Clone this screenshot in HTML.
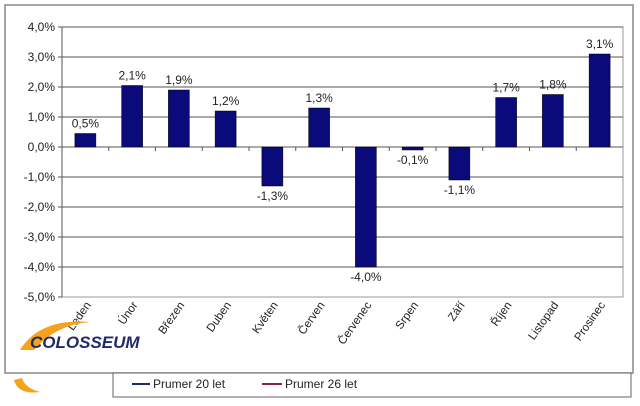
<!DOCTYPE html>
<html><head><meta charset="utf-8"><style>
body{margin:0;background:#fff;width:640px;height:401px;overflow:hidden;font-family:"Liberation Sans",sans-serif}
svg text{font-family:"Liberation Sans",sans-serif;font-size:12px;fill:#222}
</style></head><body>
<svg width="640" height="401">
<rect x="5" y="5" width="628" height="368" fill="#fff" stroke="#888" stroke-width="1.5"/>
<rect x="113" y="373" width="518" height="24" fill="#fff" stroke="#666"/>
<g id="plot"></g>
<g>
<path d="M20,350 Q40,318 90,322 Q55,325 34,350 Z" fill="#f5a21c"/>
<text x="30" y="348" style="font-size:17px;font-weight:bold;fill:#1d2b6b;font-style:italic">COLOSSEUM</text>
<path d="M14,380 Q18,395 40,392 Q25,388 22,378 Z" fill="#f5a21c"/>
</g>
<line x1="132" y1="384" x2="150" y2="384" stroke="#1d2b6b" stroke-width="2"/>
<text x="153" y="388">Prumer 20 let</text>
<line x1="262" y1="384" x2="282" y2="384" stroke="#8b2252" stroke-width="2"/>
<text x="285" y="388">Prumer 26 let</text>
</svg>
<script>
const categories=["Leden","Únor","Březen","Duben","Květen","Červen","Červenec","Srpen","Září","Říjen","Listopad","Prosinec"];
const values=[0.45,2.05,1.9,1.2,-1.3,1.3,-4.0,-0.1,-1.1,1.65,1.75,3.1];
const labels=["0,5%","2,1%","1,9%","1,2%","-1,3%","1,3%","-4,0%","-0,1%","-1,1%","1,7%","1,8%","3,1%"];
const ticks=[4,3,2,1,0,-1,-2,-3,-4,-5];
const tickLabels=["4,0%","3,0%","2,0%","1,0%","0,0%","-1,0%","-2,0%","-3,0%","-4,0%","-5,0%"];
const NS="http://www.w3.org/2000/svg",g=document.getElementById('plot');
const L=62,R=623,T=27,B=297,vmax=4,vmin=-5;
const y=v=>T+(vmax-v)/(vmax-vmin)*(B-T);
const bw=(R-L)/categories.length;
const x=i=>L+bw*(i+0.5);
function mk(t,a){const e=document.createElementNS(NS,t);for(const k in a)e.setAttribute(k,a[k]);g.appendChild(e);return e;}
let e=mk('rect',{x:L,y:T,width:R-L,height:B-T,fill:'#fff',stroke:'#999'});


ticks.forEach((t,i)=>{
 const l=mk('line',{x1:L-4,x2:t>vmin?R:L,y1:y(t),y2:y(t),stroke:'#555','stroke-width':1});
 
 
 const tx=mk('text',{x:L-7,y:y(t)+4,'text-anchor':'end'});tx.textContent=tickLabels[i];
 
 
});
e=mk('line',{x1:L,x2:L,y1:T,y2:B,stroke:'#555'});


categories.forEach((c,i)=>{
 const tk=mk('line',{x1:L+bw*i,x2:L+bw*i,y1:y(0),y2:y(0)+4,stroke:'#555'});
 
 
 const v=values[i],yt=Math.min(y(v),y(0)),h=Math.max(1.5,Math.abs(y(v)-y(0)));
 const r=mk('rect',{x:x(i)-10.5,y:yt,width:21,height:h,fill:'#0a0a7a',stroke:'#000','stroke-width':0.5});
 
 
 const lb=mk('text',{x:x(i),y:v>=0?y(v)-6:y(v)+14,'text-anchor':'middle'});lb.textContent=labels[i];
 
 
 const cx=x(i)+6,cy=B+8;
 const ct=mk('text',{x:cx,y:cy,'text-anchor':'end',transform:`rotate(-55 ${cx} ${cy})`,style:'font-size:11.5px'});ct.textContent=c;
 
 
});
</script>
</body></html>
